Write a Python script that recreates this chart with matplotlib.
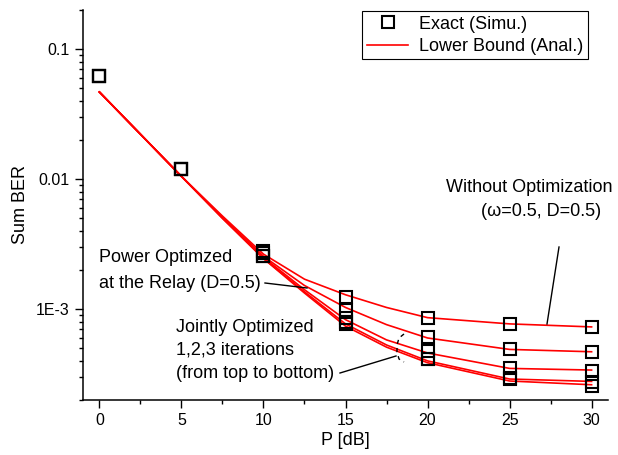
import matplotlib
matplotlib.use("Agg")
import matplotlib.pyplot as plt
from matplotlib.lines import Line2D
from matplotlib.ticker import LogLocator, FixedLocator, NullFormatter, MultipleLocator

plt.rcParams["font.family"] = ["Liberation Sans", "DejaVu Sans"]

# simulated points (squares)
p_db = [0, 5, 10, 15, 20, 25, 30]
sim_no_opt = [0.0618, 0.0120, 2.79e-3, 1.245e-3, 8.6e-4, 7.7e-4, 7.33e-4]
sim_power = [0.0618, 0.0120, 2.7e-3, 9.9e-4, 6.07e-4, 4.93e-4, 4.70e-4]
sim_joint1 = [0.0618, 0.0120, 2.55e-3, 8.5e-4, 4.77e-4, 3.55e-4, 3.37e-4]
sim_joint2 = [0.0618, 0.0120, 2.55e-3, 8.0e-4, 4.15e-4, 2.95e-4, 2.75e-4]
sim_joint3 = [0.0618, 0.0120, 2.55e-3, 7.7e-4, 4.1e-4, 2.9e-4, 2.57e-4]

# analytical lower bounds (red curves)
bound_p = [0, 5, 7.5, 10, 12.5, 15, 17.5, 20, 25, 30]
bnd_no_opt = [0.0468, 0.0105, 5.2e-3, 2.65e-3, 1.7e-3, 1.29e-3, 1.03e-3, 8.6e-4, 7.7e-4, 7.3e-4]
bnd_power = [0.0468, 0.0105, 5.1e-3, 2.55e-3, 1.52e-3, 1.03e-3, 7.6e-4, 6.0e-4, 4.9e-4, 4.7e-4]
bnd_joint1 = [0.0468, 0.0105, 5.05e-3, 2.5e-3, 1.41e-3, 8.3e-4, 5.8e-4, 4.6e-4, 3.5e-4, 3.4e-4]
bnd_joint2 = [0.0468, 0.0105, 5.0e-3, 2.45e-3, 1.36e-3, 7.7e-4, 5.3e-4, 4.0e-4, 2.9e-4, 2.78e-4]
bnd_joint3 = [0.0468, 0.0105, 5.0e-3, 2.45e-3, 1.33e-3, 7.4e-4, 5.1e-4, 3.87e-4, 2.8e-4, 2.62e-4]

W, H = 618, 455
fig = plt.figure(figsize=(W / 100, H / 100), dpi=100)
ax = fig.add_axes([83 / W, 1 - 400 / H, (608 - 83) / W, (400 - 10) / H])

for b in [bnd_no_opt, bnd_power, bnd_joint1, bnd_joint2, bnd_joint3]:
    ax.plot(bound_p, b, color="#ff0000", lw=1.2, zorder=2)

for s in [sim_no_opt, sim_power, sim_joint1, sim_joint2, sim_joint3]:
    ax.plot(p_db, s, ls="none", marker="s", ms=8.5, mfc="none",
            mec="black", mew=1.5, zorder=3)

ax.set_yscale("log")
ax.set_ylim(2e-4, 0.2)
ax.set_xlim(-1, 31)

ax.xaxis.set_major_locator(MultipleLocator(5))
ax.xaxis.set_minor_locator(MultipleLocator(2.5))
ax.yaxis.set_major_locator(FixedLocator([1e-3, 1e-2, 1e-1]))
ax.set_yticklabels(["1E-3", "0.01", "0.1"])
ax.yaxis.set_minor_locator(LogLocator(base=10, subs=range(2, 10)))
ax.yaxis.set_minor_formatter(NullFormatter())

ax.tick_params(which="major", direction="out", length=6, width=1, labelsize=11.5)
ax.tick_params(which="minor", direction="out", length=3, width=1)
for side in ["top", "right"]:
    ax.spines[side].set_visible(False)
for side in ["left", "bottom"]:
    ax.spines[side].set_linewidth(1.1)

ax.set_xlabel("P [dB]", fontsize=13, labelpad=3)
ax.set_ylabel("Sum BER", fontsize=13, labelpad=5)

handles = [
    Line2D([], [], ls="none", marker="s", ms=8.5, mfc="none", mec="black", mew=1.5),
    Line2D([], [], color="#ff0000", lw=1.2),
]
leg = ax.legend(handles, ["Exact (Simu.)", "Lower Bound (Anal.)"],
                loc="upper right", bbox_to_anchor=(588 / W, 1 - 11 / H),
                bbox_transform=fig.transFigure, fontsize=13, fancybox=False,
                framealpha=1, edgecolor="black", borderpad=0.25,
                handlelength=2.3, labelspacing=0.3, handletextpad=0.6,
                borderaxespad=0)
leg.get_frame().set_linewidth(0.8)


def fx(px):
    return px / W


def fy(py):
    return 1 - py / H


fs = 13
fig.text(fx(529), fy(187), "Without Optimization", fontsize=fs, ha="center", va="center")
fig.text(fx(541), fy(211), "(ω=0.5, D=0.5)", fontsize=fs, ha="center", va="center")
fig.add_artist(Line2D([fx(559), fx(547)], [fy(247), fy(324)], color="black", lw=1))

fig.text(fx(99), fy(258), "Power Optimzed", fontsize=fs, ha="left", va="center")
fig.text(fx(99), fy(283), "at the Relay (D=0.5)", fontsize=fs, ha="left", va="center")
fig.add_artist(Line2D([fx(265), fx(307)], [fy(283), fy(288)], color="black", lw=1))

fig.text(fx(176), fy(327), "Jointly Optimized", fontsize=fs, ha="left", va="center")
fig.text(fx(176), fy(350), "1,2,3 iterations", fontsize=fs, ha="left", va="center")
fig.text(fx(176), fy(373), "(from top to bottom)", fontsize=fs, ha="left", va="center")
fig.add_artist(Line2D([fx(340), fx(396)], [fy(373), fy(356)], color="black", lw=1))
bx = [404, 399, 397, 397, 399, 404]
by = [334, 338, 345, 352, 359, 362]
fig.add_artist(Line2D([fx(v) for v in bx], [fy(v) for v in by], color="black",
                      lw=1, ls=(0, (3, 3))))

fig.savefig("out.png", dpi=100)
